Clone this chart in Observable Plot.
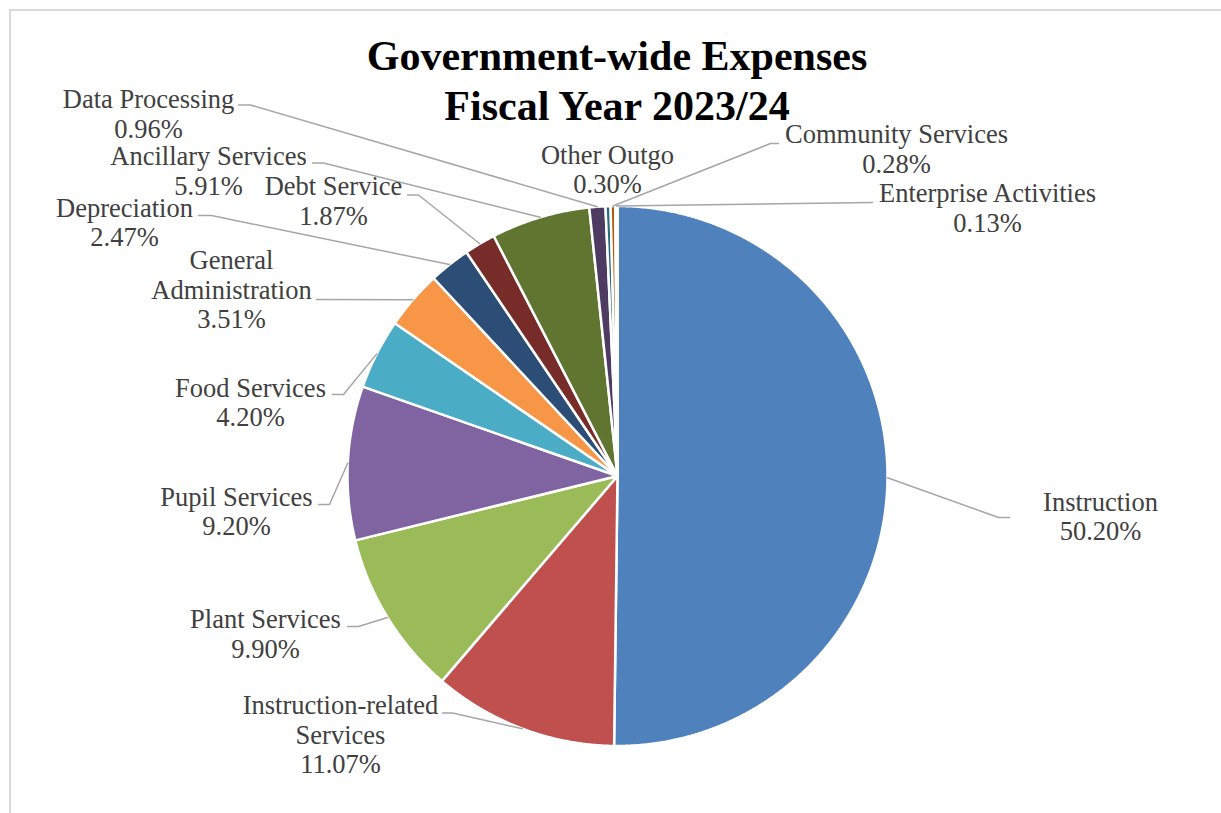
<!DOCTYPE html>
<html>
<head>
<meta charset="utf-8">
<script src="https://cdn.jsdelivr.net/npm/d3@7"></script>
<script src="https://cdn.jsdelivr.net/npm/@observablehq/plot@0.6"></script>
<style>
  html, body { margin: 0; padding: 0; background: #fff; }
  #wrap { position: relative; width: 1221px; height: 813px; overflow: hidden; }
  #edge { position: absolute; left: 9px; top: 9px; width: 1400px; height: 1000px;
          border-top: 2px solid #d9d9d9; border-left: 2px solid #d9d9d9; }
  #chart { position: absolute; left: 0; top: 0; }
</style>
</head>
<body>
<div id="wrap"><div id="edge"></div><div id="chart"></div></div>
<script>
// Expense functions, in clockwise order from 12 o'clock
const categories = [
  "Instruction", "Instruction-related Services", "Plant Services", "Pupil Services",
  "Food Services", "General Administration", "Depreciation", "Debt Service",
  "Ancillary Services", "Data Processing", "Other Outgo", "Community Services",
  "Enterprise Activities"
];
// Share of total expenses, percent
const shares = [50.20, 11.07, 9.90, 9.20, 4.20, 3.51, 2.47, 1.87, 5.91, 0.96, 0.30, 0.28, 0.13];
// Label wording as it is wrapped on the chart
const labelNames = [
  "Instruction", "Instruction-related\nServices", "Plant Services", "Pupil Services",
  "Food Services", "General\nAdministration", "Depreciation", "Debt Service",
  "Ancillary Services", "Data Processing", "Other Outgo", "Community Services",
  "Enterprise Activities"
];
const sliceColors = [
  "#4f81bd", "#c0504d", "#9bbb59", "#8064a2", "#4bacc6", "#f79646", "#2c4d75",
  "#772c2a", "#5f7530", "#4d3b62", "#276a7c", "#b65708", "#729aca"
];

// Layout: pixel offsets from the pie centre
const W = 1221, H = 813, CX = 617, CY = 475.5, R = 270;
const labelLayout = [
  {at: [483, 40],      elbow: [381, 41.5],    end: [392, 41.5]},
  {at: [-277, 258.5],  elbow: [-165, 237],    end: [-175, 237]},
  {at: [-352, 157.5],  elbow: [-259, 150.5],  end: [-270, 150.5]},
  {at: [-381, 35],     elbow: [-288, 28.5],   end: [-299, 28.5]},
  {at: [-367, -74],    elbow: [-274, -81.5],  end: [-285, -81.5]},
  {at: [-386, -186.5], elbow: null,           end: [-301, -176.5]},
  {at: [-493, -254],   elbow: [-406, -260.5], end: [-419, -260.5]},
  {at: [-284, -275.5], elbow: [-199, -281],   end: [-210, -281]},
  {at: [-409, -305.5], elbow: [-294, -313],   end: [-305, -313]},
  {at: [-469, -362.5], elbow: [-367, -371],   end: [-379, -371]},
  {at: [-10, -307],    elbow: null,           end: null},
  {at: [279, -327.5],  elbow: [153, -332.5],  end: [161, -332.5]},
  {at: [370, -268.5],  elbow: null,           end: [255, -273.5]}
];

const total = d3.sum(shares);
let cum = 0;
const slices = categories.map((name, i) => {
  const a0 = cum / total * 2 * Math.PI;
  cum += shares[i];
  const a1 = cum / total * 2 * Math.PI;
  return {name, value: shares[i], a0, a1, mid: (a0 + a1) / 2, i};
});

const polar = (a, r) => [r * Math.sin(a), -r * Math.cos(a)];

// Slice outlines: centre -> arc -> centre
const slicePts = slices.flatMap(s => {
  const n = Math.max(2, Math.ceil((s.a1 - s.a0) / (Math.PI / 720)));
  const pts = [{name: s.name, p: [0, 0]}];
  for (let k = 0; k <= n; k++) pts.push({name: s.name, p: polar(s.a0 + (s.a1 - s.a0) * k / n, R)});
  pts.push({name: s.name, p: [0, 0]});
  return pts;
});

// Leader lines from the slice's arc midpoint to its label
const leaderPts = slices.flatMap(s => {
  const L = labelLayout[s.i];
  if (!L.end) return [];
  const pts = [{name: s.name, p: polar(s.mid, R)}];
  if (L.elbow) pts.push({name: s.name, p: L.elbow});
  pts.push({name: s.name, p: L.end});
  return pts;
});

const labels = slices.map(s => ({
  name: s.name,
  text: labelNames[s.i] + "\n" + s.value.toFixed(2) + "%",
  p: labelLayout[s.i].at
}));

const chart = Plot.plot({
  width: W,
  height: H,
  margin: 0,
  x: {domain: [-CX, W - CX], range: [0, W], axis: null},
  y: {domain: [-CY, H - CY], range: [0, H], axis: null},
  color: {domain: categories, range: sliceColors},
  style: {background: "transparent", fontFamily: "'Liberation Serif', 'Times New Roman', serif"},
  marks: [
    Plot.line(slicePts, {
      x: d => d.p[0], y: d => d.p[1], z: "name", fill: "name",
      stroke: "white", strokeWidth: 2.5, strokeLinejoin: "round", curve: "linear"
    }),
    Plot.line(leaderPts, {
      x: d => d.p[0], y: d => d.p[1], z: "name",
      stroke: "#a6a6a6", strokeWidth: 1.5, curve: "linear"
    }),
    Plot.text(labels, {
      x: d => d.p[0], y: d => d.p[1], text: "text",
      textAnchor: "middle", lineAnchor: "middle", fontSize: 26.5, lineHeight: 29.5 / 26.5,
      fill: "#404040", fontFamily: "'Liberation Serif', serif"
    }),
    Plot.text(["Government-wide Expenses\nFiscal Year 2023/24"], {
      text: d => d, frameAnchor: "top", dx: 6, dy: 78.5,
      textAnchor: "middle", lineAnchor: "middle", fontSize: 42, fontWeight: "bold",
      lineHeight: 50 / 42, fill: "#000", fontFamily: "'Liberation Serif', serif"
    })
  ]
});
document.getElementById("chart").appendChild(chart);
</script>
</body>
</html>
